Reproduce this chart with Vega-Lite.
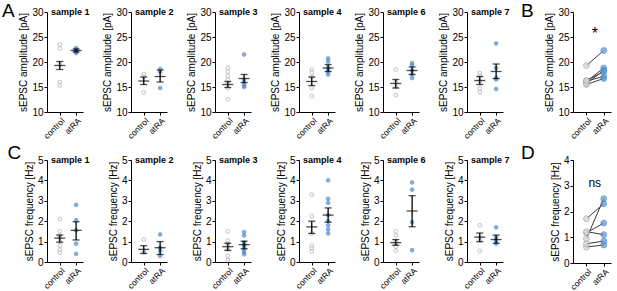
{
"$schema": "https://vega.github.io/schema/vega-lite/v6.json",
"padding": {"left": 1, "top": 2, "right": 2, "bottom": 1},
"background": "white",
"datasets": {"all": [
{"m":"amp","sample":"sample 1","group":"control","value":23.5},
{"m":"amp","sample":"sample 1","group":"control","value":22.7},
{"m":"amp","sample":"sample 1","group":"control","value":19.5},
{"m":"amp","sample":"sample 1","group":"control","value":16.0},
{"m":"amp","sample":"sample 1","group":"control","value":15.3},
{"m":"amp","sample":"sample 1","group":"atRA","value":22.8},
{"m":"amp","sample":"sample 1","group":"atRA","value":22.5},
{"m":"amp","sample":"sample 1","group":"atRA","value":22.3},
{"m":"amp","sample":"sample 1","group":"atRA","value":22.1},
{"m":"amp","sample":"sample 1","group":"atRA","value":22.0},
{"m":"amp","sample":"sample 1","group":"atRA","value":21.8},
{"m":"amp","sample":"sample 2","group":"control","value":17.6},
{"m":"amp","sample":"sample 2","group":"control","value":17.0},
{"m":"amp","sample":"sample 2","group":"control","value":13.9},
{"m":"amp","sample":"sample 2","group":"atRA","value":18.6},
{"m":"amp","sample":"sample 2","group":"atRA","value":18.0},
{"m":"amp","sample":"sample 2","group":"atRA","value":14.8},
{"m":"amp","sample":"sample 3","group":"control","value":18.8},
{"m":"amp","sample":"sample 3","group":"control","value":18.1},
{"m":"amp","sample":"sample 3","group":"control","value":17.2},
{"m":"amp","sample":"sample 3","group":"control","value":16.5},
{"m":"amp","sample":"sample 3","group":"control","value":15.7},
{"m":"amp","sample":"sample 3","group":"control","value":14.8},
{"m":"amp","sample":"sample 3","group":"control","value":12.5},
{"m":"amp","sample":"sample 3","group":"atRA","value":21.5},
{"m":"amp","sample":"sample 3","group":"atRA","value":16.5},
{"m":"amp","sample":"sample 3","group":"atRA","value":15.8},
{"m":"amp","sample":"sample 3","group":"atRA","value":15.3},
{"m":"amp","sample":"sample 3","group":"atRA","value":15.0},
{"m":"amp","sample":"sample 4","group":"control","value":18.5},
{"m":"amp","sample":"sample 4","group":"control","value":17.9},
{"m":"amp","sample":"sample 4","group":"control","value":17.0},
{"m":"amp","sample":"sample 4","group":"control","value":14.8},
{"m":"amp","sample":"sample 4","group":"control","value":13.2},
{"m":"amp","sample":"sample 4","group":"atRA","value":20.7},
{"m":"amp","sample":"sample 4","group":"atRA","value":20.1},
{"m":"amp","sample":"sample 4","group":"atRA","value":19.0},
{"m":"amp","sample":"sample 4","group":"atRA","value":18.5},
{"m":"amp","sample":"sample 4","group":"atRA","value":18.0},
{"m":"amp","sample":"sample 4","group":"atRA","value":17.5},
{"m":"amp","sample":"sample 6","group":"control","value":18.5},
{"m":"amp","sample":"sample 6","group":"control","value":16.0},
{"m":"amp","sample":"sample 6","group":"control","value":15.0},
{"m":"amp","sample":"sample 6","group":"control","value":13.4},
{"m":"amp","sample":"sample 6","group":"atRA","value":19.8},
{"m":"amp","sample":"sample 6","group":"atRA","value":19.3},
{"m":"amp","sample":"sample 6","group":"atRA","value":18.3},
{"m":"amp","sample":"sample 6","group":"atRA","value":17.5},
{"m":"amp","sample":"sample 6","group":"atRA","value":16.8},
{"m":"amp","sample":"sample 7","group":"control","value":17.8},
{"m":"amp","sample":"sample 7","group":"control","value":17.2},
{"m":"amp","sample":"sample 7","group":"control","value":16.2},
{"m":"amp","sample":"sample 7","group":"control","value":14.7},
{"m":"amp","sample":"sample 7","group":"control","value":14.0},
{"m":"amp","sample":"sample 7","group":"atRA","value":23.7},
{"m":"amp","sample":"sample 7","group":"atRA","value":18.8},
{"m":"amp","sample":"sample 7","group":"atRA","value":16.8},
{"m":"amp","sample":"sample 7","group":"atRA","value":16.5},
{"m":"amp","sample":"sample 7","group":"atRA","value":14.6},
{"m":"freq","sample":"sample 1","group":"control","value":2.1},
{"m":"freq","sample":"sample 1","group":"control","value":1.5},
{"m":"freq","sample":"sample 1","group":"control","value":1.3},
{"m":"freq","sample":"sample 1","group":"control","value":1.2},
{"m":"freq","sample":"sample 1","group":"control","value":1.0},
{"m":"freq","sample":"sample 1","group":"control","value":0.8},
{"m":"freq","sample":"sample 1","group":"control","value":0.6},
{"m":"freq","sample":"sample 1","group":"control","value":0.45},
{"m":"freq","sample":"sample 1","group":"atRA","value":2.8},
{"m":"freq","sample":"sample 1","group":"atRA","value":2.05},
{"m":"freq","sample":"sample 1","group":"atRA","value":1.55},
{"m":"freq","sample":"sample 1","group":"atRA","value":0.9},
{"m":"freq","sample":"sample 1","group":"atRA","value":0.4},
{"m":"freq","sample":"sample 2","group":"control","value":1.1},
{"m":"freq","sample":"sample 2","group":"control","value":0.55},
{"m":"freq","sample":"sample 2","group":"control","value":0.45},
{"m":"freq","sample":"sample 2","group":"atRA","value":1.35},
{"m":"freq","sample":"sample 2","group":"atRA","value":0.7},
{"m":"freq","sample":"sample 2","group":"atRA","value":0.55},
{"m":"freq","sample":"sample 2","group":"atRA","value":0.3},
{"m":"freq","sample":"sample 3","group":"control","value":1.5},
{"m":"freq","sample":"sample 3","group":"control","value":1.05},
{"m":"freq","sample":"sample 3","group":"control","value":0.9},
{"m":"freq","sample":"sample 3","group":"control","value":0.8},
{"m":"freq","sample":"sample 3","group":"control","value":0.6},
{"m":"freq","sample":"sample 3","group":"control","value":0.3},
{"m":"freq","sample":"sample 3","group":"control","value":0.1},
{"m":"freq","sample":"sample 3","group":"atRA","value":1.47},
{"m":"freq","sample":"sample 3","group":"atRA","value":1.3},
{"m":"freq","sample":"sample 3","group":"atRA","value":0.95},
{"m":"freq","sample":"sample 3","group":"atRA","value":0.85},
{"m":"freq","sample":"sample 3","group":"atRA","value":0.75},
{"m":"freq","sample":"sample 3","group":"atRA","value":0.62},
{"m":"freq","sample":"sample 3","group":"atRA","value":0.5},
{"m":"freq","sample":"sample 3","group":"atRA","value":0.38},
{"m":"freq","sample":"sample 4","group":"control","value":3.3},
{"m":"freq","sample":"sample 4","group":"control","value":2.25},
{"m":"freq","sample":"sample 4","group":"control","value":1.4},
{"m":"freq","sample":"sample 4","group":"control","value":0.8},
{"m":"freq","sample":"sample 4","group":"control","value":0.68},
{"m":"freq","sample":"sample 4","group":"control","value":0.52},
{"m":"freq","sample":"sample 4","group":"atRA","value":4.0},
{"m":"freq","sample":"sample 4","group":"atRA","value":3.1},
{"m":"freq","sample":"sample 4","group":"atRA","value":2.9},
{"m":"freq","sample":"sample 4","group":"atRA","value":2.3},
{"m":"freq","sample":"sample 4","group":"atRA","value":2.0},
{"m":"freq","sample":"sample 4","group":"atRA","value":1.8},
{"m":"freq","sample":"sample 4","group":"atRA","value":1.6},
{"m":"freq","sample":"sample 4","group":"atRA","value":1.4},
{"m":"freq","sample":"sample 6","group":"control","value":1.5},
{"m":"freq","sample":"sample 6","group":"control","value":1.3},
{"m":"freq","sample":"sample 6","group":"control","value":1.0},
{"m":"freq","sample":"sample 6","group":"control","value":0.9},
{"m":"freq","sample":"sample 6","group":"control","value":0.75},
{"m":"freq","sample":"sample 6","group":"control","value":0.55},
{"m":"freq","sample":"sample 6","group":"atRA","value":3.9},
{"m":"freq","sample":"sample 6","group":"atRA","value":3.55},
{"m":"freq","sample":"sample 6","group":"atRA","value":1.95},
{"m":"freq","sample":"sample 6","group":"atRA","value":0.58},
{"m":"freq","sample":"sample 7","group":"control","value":1.8},
{"m":"freq","sample":"sample 7","group":"control","value":1.2},
{"m":"freq","sample":"sample 7","group":"control","value":1.05},
{"m":"freq","sample":"sample 7","group":"control","value":0.55},
{"m":"freq","sample":"sample 7","group":"atRA","value":1.7},
{"m":"freq","sample":"sample 7","group":"atRA","value":1.2},
{"m":"freq","sample":"sample 7","group":"atRA","value":1.05},
{"m":"freq","sample":"sample 7","group":"atRA","value":0.9},
{"m":"amp","sample":"sample 1","group":"control","mean":19.3,"lo":18.5,"hi":20.1},
{"m":"amp","sample":"sample 1","group":"atRA","mean":22.3,"lo":22.0,"hi":22.6},
{"m":"amp","sample":"sample 2","group":"control","mean":16.2,"lo":15.5,"hi":17.0},
{"m":"amp","sample":"sample 2","group":"atRA","mean":17.1,"lo":16.0,"hi":18.4},
{"m":"amp","sample":"sample 3","group":"control","mean":15.5,"lo":14.9,"hi":16.1},
{"m":"amp","sample":"sample 3","group":"atRA","mean":16.7,"lo":15.9,"hi":17.5},
{"m":"amp","sample":"sample 4","group":"control","mean":16.1,"lo":15.3,"hi":17.0},
{"m":"amp","sample":"sample 4","group":"atRA","mean":18.8,"lo":18.1,"hi":19.5},
{"m":"amp","sample":"sample 6","group":"control","mean":15.7,"lo":14.8,"hi":16.5},
{"m":"amp","sample":"sample 6","group":"atRA","mean":18.3,"lo":17.5,"hi":19.0},
{"m":"amp","sample":"sample 7","group":"control","mean":16.3,"lo":15.5,"hi":17.1},
{"m":"amp","sample":"sample 7","group":"atRA","mean":18.1,"lo":16.7,"hi":19.6},
{"m":"freq","sample":"sample 1","group":"control","mean":1.17,"lo":0.97,"hi":1.32},
{"m":"freq","sample":"sample 1","group":"atRA","mean":1.55,"lo":1.08,"hi":1.97},
{"m":"freq","sample":"sample 2","group":"control","mean":0.62,"lo":0.42,"hi":0.8},
{"m":"freq","sample":"sample 2","group":"atRA","mean":0.7,"lo":0.37,"hi":1.0},
{"m":"freq","sample":"sample 3","group":"control","mean":0.75,"lo":0.57,"hi":0.92},
{"m":"freq","sample":"sample 3","group":"atRA","mean":0.85,"lo":0.65,"hi":1.02},
{"m":"freq","sample":"sample 4","group":"control","mean":1.72,"lo":1.4,"hi":2.0},
{"m":"freq","sample":"sample 4","group":"atRA","mean":2.3,"lo":1.95,"hi":2.65},
{"m":"freq","sample":"sample 6","group":"control","mean":0.95,"lo":0.82,"hi":1.1},
{"m":"freq","sample":"sample 6","group":"atRA","mean":2.5,"lo":1.73,"hi":3.25},
{"m":"freq","sample":"sample 7","group":"control","mean":1.22,"lo":1.0,"hi":1.42},
{"m":"freq","sample":"sample 7","group":"atRA","mean":1.1,"lo":0.92,"hi":1.32}
]},
"vconcat": [
{"hconcat": [
 {"title": {"text": "A", "fontSize": 19, "fontWeight": "normal", "frame": "bounds", "anchor": "start", "offset": -14, "dx": -17},
  "spacing": 48, "bounds": "flush",
  "hconcat": [
  {"width":36,"height":100,"title":{"text":"sample 1"},"data":{"name":"all"},"transform":[{"filter":"datum.m=='amp' && datum.sample=='sample 1'"}],
   "encoding":{"x":{"field":"group","type":"nominal","scale":{"type":"point","domain":["control","atRA"],"padding":0.6,"align":0.65},"axis":{"title":null}}},
   "layer":[
    {"transform":[{"filter":"isValid(datum.value)"}],"mark":{"type":"circle","size":14,"strokeWidth":1},"encoding":{"y":{"field":"value","type":"quantitative","scale":{"domain":[10,30]},"axis":{"values":[10,15,20,25,30],"title":"sEPSC amplitude [pA]"}},"fill":{"condition":{"test":"datum.group=='control'","value":"white"},"value":"#4a89c8"},"stroke":{"condition":{"test":"datum.group=='control'","value":"#a8a8a8"},"value":"#4a89c8"}}},
    {"transform":[{"filter":"isValid(datum.mean)"}],"mark":{"type":"errorbar","ticks":{"size":7},"thickness":1.3,"color":"black"},"encoding":{"y":{"field":"lo","type":"quantitative","scale":{"domain":[10,30]},"axis":{"values":[10,15,20,25,30],"title":"sEPSC amplitude [pA]"}},"y2":{"field":"hi"}}},
    {"transform":[{"filter":"isValid(datum.mean)"}],"mark":{"type":"tick","size":11,"thickness":1.3,"color":"black"},"encoding":{"y":{"field":"mean","type":"quantitative","scale":{"domain":[10,30]},"axis":{"values":[10,15,20,25,30],"title":"sEPSC amplitude [pA]"}}}}
   ]},
  {"width":36,"height":100,"title":{"text":"sample 2"},"data":{"name":"all"},"transform":[{"filter":"datum.m=='amp' && datum.sample=='sample 2'"}],
   "encoding":{"x":{"field":"group","type":"nominal","scale":{"type":"point","domain":["control","atRA"],"padding":0.6,"align":0.65},"axis":{"title":null}}},
   "layer":[
    {"transform":[{"filter":"isValid(datum.value)"}],"mark":{"type":"circle","size":14,"strokeWidth":1},"encoding":{"y":{"field":"value","type":"quantitative","scale":{"domain":[10,30]},"axis":{"values":[10,15,20,25,30],"title":"sEPSC amplitude [pA]"}},"fill":{"condition":{"test":"datum.group=='control'","value":"white"},"value":"#4a89c8"},"stroke":{"condition":{"test":"datum.group=='control'","value":"#a8a8a8"},"value":"#4a89c8"}}},
    {"transform":[{"filter":"isValid(datum.mean)"}],"mark":{"type":"errorbar","ticks":{"size":7},"thickness":1.3,"color":"black"},"encoding":{"y":{"field":"lo","type":"quantitative","scale":{"domain":[10,30]},"axis":{"values":[10,15,20,25,30],"title":"sEPSC amplitude [pA]"}},"y2":{"field":"hi"}}},
    {"transform":[{"filter":"isValid(datum.mean)"}],"mark":{"type":"tick","size":11,"thickness":1.3,"color":"black"},"encoding":{"y":{"field":"mean","type":"quantitative","scale":{"domain":[10,30]},"axis":{"values":[10,15,20,25,30],"title":"sEPSC amplitude [pA]"}}}}
   ]},
  {"width":36,"height":100,"title":{"text":"sample 3"},"data":{"name":"all"},"transform":[{"filter":"datum.m=='amp' && datum.sample=='sample 3'"}],
   "encoding":{"x":{"field":"group","type":"nominal","scale":{"type":"point","domain":["control","atRA"],"padding":0.6,"align":0.65},"axis":{"title":null}}},
   "layer":[
    {"transform":[{"filter":"isValid(datum.value)"}],"mark":{"type":"circle","size":14,"strokeWidth":1},"encoding":{"y":{"field":"value","type":"quantitative","scale":{"domain":[10,30]},"axis":{"values":[10,15,20,25,30],"title":"sEPSC amplitude [pA]"}},"fill":{"condition":{"test":"datum.group=='control'","value":"white"},"value":"#4a89c8"},"stroke":{"condition":{"test":"datum.group=='control'","value":"#a8a8a8"},"value":"#4a89c8"}}},
    {"transform":[{"filter":"isValid(datum.mean)"}],"mark":{"type":"errorbar","ticks":{"size":7},"thickness":1.3,"color":"black"},"encoding":{"y":{"field":"lo","type":"quantitative","scale":{"domain":[10,30]},"axis":{"values":[10,15,20,25,30],"title":"sEPSC amplitude [pA]"}},"y2":{"field":"hi"}}},
    {"transform":[{"filter":"isValid(datum.mean)"}],"mark":{"type":"tick","size":11,"thickness":1.3,"color":"black"},"encoding":{"y":{"field":"mean","type":"quantitative","scale":{"domain":[10,30]},"axis":{"values":[10,15,20,25,30],"title":"sEPSC amplitude [pA]"}}}}
   ]},
  {"width":36,"height":100,"title":{"text":"sample 4"},"data":{"name":"all"},"transform":[{"filter":"datum.m=='amp' && datum.sample=='sample 4'"}],
   "encoding":{"x":{"field":"group","type":"nominal","scale":{"type":"point","domain":["control","atRA"],"padding":0.6,"align":0.65},"axis":{"title":null}}},
   "layer":[
    {"transform":[{"filter":"isValid(datum.value)"}],"mark":{"type":"circle","size":14,"strokeWidth":1},"encoding":{"y":{"field":"value","type":"quantitative","scale":{"domain":[10,30]},"axis":{"values":[10,15,20,25,30],"title":"sEPSC amplitude [pA]"}},"fill":{"condition":{"test":"datum.group=='control'","value":"white"},"value":"#4a89c8"},"stroke":{"condition":{"test":"datum.group=='control'","value":"#a8a8a8"},"value":"#4a89c8"}}},
    {"transform":[{"filter":"isValid(datum.mean)"}],"mark":{"type":"errorbar","ticks":{"size":7},"thickness":1.3,"color":"black"},"encoding":{"y":{"field":"lo","type":"quantitative","scale":{"domain":[10,30]},"axis":{"values":[10,15,20,25,30],"title":"sEPSC amplitude [pA]"}},"y2":{"field":"hi"}}},
    {"transform":[{"filter":"isValid(datum.mean)"}],"mark":{"type":"tick","size":11,"thickness":1.3,"color":"black"},"encoding":{"y":{"field":"mean","type":"quantitative","scale":{"domain":[10,30]},"axis":{"values":[10,15,20,25,30],"title":"sEPSC amplitude [pA]"}}}}
   ]},
  {"width":36,"height":100,"title":{"text":"sample 6"},"data":{"name":"all"},"transform":[{"filter":"datum.m=='amp' && datum.sample=='sample 6'"}],
   "encoding":{"x":{"field":"group","type":"nominal","scale":{"type":"point","domain":["control","atRA"],"padding":0.6,"align":0.65},"axis":{"title":null}}},
   "layer":[
    {"transform":[{"filter":"isValid(datum.value)"}],"mark":{"type":"circle","size":14,"strokeWidth":1},"encoding":{"y":{"field":"value","type":"quantitative","scale":{"domain":[10,30]},"axis":{"values":[10,15,20,25,30],"title":"sEPSC amplitude [pA]"}},"fill":{"condition":{"test":"datum.group=='control'","value":"white"},"value":"#4a89c8"},"stroke":{"condition":{"test":"datum.group=='control'","value":"#a8a8a8"},"value":"#4a89c8"}}},
    {"transform":[{"filter":"isValid(datum.mean)"}],"mark":{"type":"errorbar","ticks":{"size":7},"thickness":1.3,"color":"black"},"encoding":{"y":{"field":"lo","type":"quantitative","scale":{"domain":[10,30]},"axis":{"values":[10,15,20,25,30],"title":"sEPSC amplitude [pA]"}},"y2":{"field":"hi"}}},
    {"transform":[{"filter":"isValid(datum.mean)"}],"mark":{"type":"tick","size":11,"thickness":1.3,"color":"black"},"encoding":{"y":{"field":"mean","type":"quantitative","scale":{"domain":[10,30]},"axis":{"values":[10,15,20,25,30],"title":"sEPSC amplitude [pA]"}}}}
   ]},
  {"width":36,"height":100,"title":{"text":"sample 7"},"data":{"name":"all"},"transform":[{"filter":"datum.m=='amp' && datum.sample=='sample 7'"}],
   "encoding":{"x":{"field":"group","type":"nominal","scale":{"type":"point","domain":["control","atRA"],"padding":0.6,"align":0.65},"axis":{"title":null}}},
   "layer":[
    {"transform":[{"filter":"isValid(datum.value)"}],"mark":{"type":"circle","size":14,"strokeWidth":1},"encoding":{"y":{"field":"value","type":"quantitative","scale":{"domain":[10,30]},"axis":{"values":[10,15,20,25,30],"title":"sEPSC amplitude [pA]"}},"fill":{"condition":{"test":"datum.group=='control'","value":"white"},"value":"#4a89c8"},"stroke":{"condition":{"test":"datum.group=='control'","value":"#a8a8a8"},"value":"#4a89c8"}}},
    {"transform":[{"filter":"isValid(datum.mean)"}],"mark":{"type":"errorbar","ticks":{"size":7},"thickness":1.3,"color":"black"},"encoding":{"y":{"field":"lo","type":"quantitative","scale":{"domain":[10,30]},"axis":{"values":[10,15,20,25,30],"title":"sEPSC amplitude [pA]"}},"y2":{"field":"hi"}}},
    {"transform":[{"filter":"isValid(datum.mean)"}],"mark":{"type":"tick","size":11,"thickness":1.3,"color":"black"},"encoding":{"y":{"field":"mean","type":"quantitative","scale":{"domain":[10,30]},"axis":{"values":[10,15,20,25,30],"title":"sEPSC amplitude [pA]"}}}}
   ]}
 ]},
 {"width":38,"height":100,"title":{"text":"B","fontSize":19,"fontWeight":"normal","frame":"group","anchor":"start","offset":-14,"dx":-52},
  "data":{"name":"all"},
  "encoding":{"x":{"field":"group","type":"nominal","scale":{"type":"point","domain":["control","atRA"],"padding":0.6,"align":0.65},"axis":{"title":null}}},
  "layer":[
   {"transform":[{"filter":"datum.m=='amp' && isValid(datum.mean)"}],"mark":{"type":"line","color":"#3a3a3a","strokeWidth":1},"encoding":{"y":{"field":"mean","type":"quantitative","scale":{"domain":[10,30]},"axis":{"values":[10,15,20,25,30],"title":"sEPSC amplitude [pA]"}},"detail":{"field":"sample"}}},
   {"transform":[{"filter":"datum.m=='amp' && isValid(datum.mean)"}],"mark":{"type":"circle","size":34,"strokeWidth":1},"encoding":{"y":{"field":"mean","type":"quantitative","scale":{"domain":[10,30]},"axis":{"values":[10,15,20,25,30],"title":"sEPSC amplitude [pA]"}},"fill":{"condition":{"test":"datum.group=='control'","value":"#d9d9d9"},"value":"#5b9bd5"},"stroke":{"condition":{"test":"datum.group=='control'","value":"#a0a0a0"},"value":"#3f7fc0"}}},
   {"data":{"values":[{"t":"*"}]},"mark":{"type":"text","fontSize":16,"dx":-9,"color":"black"},"encoding":{"x":{"datum":"atRA"},"y":{"datum":25.6,"axis":{"values":[10,15,20,25,30],"title":"sEPSC amplitude [pA]"}},"text":{"field":"t"}}}
  ]}
], "spacing": 11},
{"hconcat": [
 {"title": {"text": "C", "fontSize": 19, "fontWeight": "normal", "frame": "bounds", "anchor": "start", "offset": -8, "dx": -17},
  "spacing": 48, "bounds": "flush",
  "hconcat": [
  {"width":36,"height":102,"title":{"text":"sample 1"},"data":{"name":"all"},"transform":[{"filter":"datum.m=='freq' && datum.sample=='sample 1'"}],
   "encoding":{"x":{"field":"group","type":"nominal","scale":{"type":"point","domain":["control","atRA"],"padding":0.6,"align":0.65},"axis":{"title":null}}},
   "layer":[
    {"transform":[{"filter":"isValid(datum.value)"}],"mark":{"type":"circle","size":14,"strokeWidth":1},"encoding":{"y":{"field":"value","type":"quantitative","scale":{"domain":[0,5]},"axis":{"values":[0,1,2,3,4,5],"title":"sEPSC frequency [Hz]"}},"fill":{"condition":{"test":"datum.group=='control'","value":"white"},"value":"#4a89c8"},"stroke":{"condition":{"test":"datum.group=='control'","value":"#a8a8a8"},"value":"#4a89c8"}}},
    {"transform":[{"filter":"isValid(datum.mean)"}],"mark":{"type":"errorbar","ticks":{"size":7},"thickness":1.3,"color":"black"},"encoding":{"y":{"field":"lo","type":"quantitative","scale":{"domain":[0,5]},"axis":{"values":[0,1,2,3,4,5],"title":"sEPSC frequency [Hz]"}},"y2":{"field":"hi"}}},
    {"transform":[{"filter":"isValid(datum.mean)"}],"mark":{"type":"tick","size":11,"thickness":1.3,"color":"black"},"encoding":{"y":{"field":"mean","type":"quantitative","scale":{"domain":[0,5]},"axis":{"values":[0,1,2,3,4,5],"title":"sEPSC frequency [Hz]"}}}}
   ]},
  {"width":36,"height":102,"title":{"text":"sample 2"},"data":{"name":"all"},"transform":[{"filter":"datum.m=='freq' && datum.sample=='sample 2'"}],
   "encoding":{"x":{"field":"group","type":"nominal","scale":{"type":"point","domain":["control","atRA"],"padding":0.6,"align":0.65},"axis":{"title":null}}},
   "layer":[
    {"transform":[{"filter":"isValid(datum.value)"}],"mark":{"type":"circle","size":14,"strokeWidth":1},"encoding":{"y":{"field":"value","type":"quantitative","scale":{"domain":[0,5]},"axis":{"values":[0,1,2,3,4,5],"title":"sEPSC frequency [Hz]"}},"fill":{"condition":{"test":"datum.group=='control'","value":"white"},"value":"#4a89c8"},"stroke":{"condition":{"test":"datum.group=='control'","value":"#a8a8a8"},"value":"#4a89c8"}}},
    {"transform":[{"filter":"isValid(datum.mean)"}],"mark":{"type":"errorbar","ticks":{"size":7},"thickness":1.3,"color":"black"},"encoding":{"y":{"field":"lo","type":"quantitative","scale":{"domain":[0,5]},"axis":{"values":[0,1,2,3,4,5],"title":"sEPSC frequency [Hz]"}},"y2":{"field":"hi"}}},
    {"transform":[{"filter":"isValid(datum.mean)"}],"mark":{"type":"tick","size":11,"thickness":1.3,"color":"black"},"encoding":{"y":{"field":"mean","type":"quantitative","scale":{"domain":[0,5]},"axis":{"values":[0,1,2,3,4,5],"title":"sEPSC frequency [Hz]"}}}}
   ]},
  {"width":36,"height":102,"title":{"text":"sample 3"},"data":{"name":"all"},"transform":[{"filter":"datum.m=='freq' && datum.sample=='sample 3'"}],
   "encoding":{"x":{"field":"group","type":"nominal","scale":{"type":"point","domain":["control","atRA"],"padding":0.6,"align":0.65},"axis":{"title":null}}},
   "layer":[
    {"transform":[{"filter":"isValid(datum.value)"}],"mark":{"type":"circle","size":14,"strokeWidth":1},"encoding":{"y":{"field":"value","type":"quantitative","scale":{"domain":[0,5]},"axis":{"values":[0,1,2,3,4,5],"title":"sEPSC frequency [Hz]"}},"fill":{"condition":{"test":"datum.group=='control'","value":"white"},"value":"#4a89c8"},"stroke":{"condition":{"test":"datum.group=='control'","value":"#a8a8a8"},"value":"#4a89c8"}}},
    {"transform":[{"filter":"isValid(datum.mean)"}],"mark":{"type":"errorbar","ticks":{"size":7},"thickness":1.3,"color":"black"},"encoding":{"y":{"field":"lo","type":"quantitative","scale":{"domain":[0,5]},"axis":{"values":[0,1,2,3,4,5],"title":"sEPSC frequency [Hz]"}},"y2":{"field":"hi"}}},
    {"transform":[{"filter":"isValid(datum.mean)"}],"mark":{"type":"tick","size":11,"thickness":1.3,"color":"black"},"encoding":{"y":{"field":"mean","type":"quantitative","scale":{"domain":[0,5]},"axis":{"values":[0,1,2,3,4,5],"title":"sEPSC frequency [Hz]"}}}}
   ]},
  {"width":36,"height":102,"title":{"text":"sample 4"},"data":{"name":"all"},"transform":[{"filter":"datum.m=='freq' && datum.sample=='sample 4'"}],
   "encoding":{"x":{"field":"group","type":"nominal","scale":{"type":"point","domain":["control","atRA"],"padding":0.6,"align":0.65},"axis":{"title":null}}},
   "layer":[
    {"transform":[{"filter":"isValid(datum.value)"}],"mark":{"type":"circle","size":14,"strokeWidth":1},"encoding":{"y":{"field":"value","type":"quantitative","scale":{"domain":[0,5]},"axis":{"values":[0,1,2,3,4,5],"title":"sEPSC frequency [Hz]"}},"fill":{"condition":{"test":"datum.group=='control'","value":"white"},"value":"#4a89c8"},"stroke":{"condition":{"test":"datum.group=='control'","value":"#a8a8a8"},"value":"#4a89c8"}}},
    {"transform":[{"filter":"isValid(datum.mean)"}],"mark":{"type":"errorbar","ticks":{"size":7},"thickness":1.3,"color":"black"},"encoding":{"y":{"field":"lo","type":"quantitative","scale":{"domain":[0,5]},"axis":{"values":[0,1,2,3,4,5],"title":"sEPSC frequency [Hz]"}},"y2":{"field":"hi"}}},
    {"transform":[{"filter":"isValid(datum.mean)"}],"mark":{"type":"tick","size":11,"thickness":1.3,"color":"black"},"encoding":{"y":{"field":"mean","type":"quantitative","scale":{"domain":[0,5]},"axis":{"values":[0,1,2,3,4,5],"title":"sEPSC frequency [Hz]"}}}}
   ]},
  {"width":36,"height":102,"title":{"text":"sample 6"},"data":{"name":"all"},"transform":[{"filter":"datum.m=='freq' && datum.sample=='sample 6'"}],
   "encoding":{"x":{"field":"group","type":"nominal","scale":{"type":"point","domain":["control","atRA"],"padding":0.6,"align":0.65},"axis":{"title":null}}},
   "layer":[
    {"transform":[{"filter":"isValid(datum.value)"}],"mark":{"type":"circle","size":14,"strokeWidth":1},"encoding":{"y":{"field":"value","type":"quantitative","scale":{"domain":[0,5]},"axis":{"values":[0,1,2,3,4,5],"title":"sEPSC frequency [Hz]"}},"fill":{"condition":{"test":"datum.group=='control'","value":"white"},"value":"#4a89c8"},"stroke":{"condition":{"test":"datum.group=='control'","value":"#a8a8a8"},"value":"#4a89c8"}}},
    {"transform":[{"filter":"isValid(datum.mean)"}],"mark":{"type":"errorbar","ticks":{"size":7},"thickness":1.3,"color":"black"},"encoding":{"y":{"field":"lo","type":"quantitative","scale":{"domain":[0,5]},"axis":{"values":[0,1,2,3,4,5],"title":"sEPSC frequency [Hz]"}},"y2":{"field":"hi"}}},
    {"transform":[{"filter":"isValid(datum.mean)"}],"mark":{"type":"tick","size":11,"thickness":1.3,"color":"black"},"encoding":{"y":{"field":"mean","type":"quantitative","scale":{"domain":[0,5]},"axis":{"values":[0,1,2,3,4,5],"title":"sEPSC frequency [Hz]"}}}}
   ]},
  {"width":36,"height":102,"title":{"text":"sample 7"},"data":{"name":"all"},"transform":[{"filter":"datum.m=='freq' && datum.sample=='sample 7'"}],
   "encoding":{"x":{"field":"group","type":"nominal","scale":{"type":"point","domain":["control","atRA"],"padding":0.6,"align":0.65},"axis":{"title":null}}},
   "layer":[
    {"transform":[{"filter":"isValid(datum.value)"}],"mark":{"type":"circle","size":14,"strokeWidth":1},"encoding":{"y":{"field":"value","type":"quantitative","scale":{"domain":[0,5]},"axis":{"values":[0,1,2,3,4,5],"title":"sEPSC frequency [Hz]"}},"fill":{"condition":{"test":"datum.group=='control'","value":"white"},"value":"#4a89c8"},"stroke":{"condition":{"test":"datum.group=='control'","value":"#a8a8a8"},"value":"#4a89c8"}}},
    {"transform":[{"filter":"isValid(datum.mean)"}],"mark":{"type":"errorbar","ticks":{"size":7},"thickness":1.3,"color":"black"},"encoding":{"y":{"field":"lo","type":"quantitative","scale":{"domain":[0,5]},"axis":{"values":[0,1,2,3,4,5],"title":"sEPSC frequency [Hz]"}},"y2":{"field":"hi"}}},
    {"transform":[{"filter":"isValid(datum.mean)"}],"mark":{"type":"tick","size":11,"thickness":1.3,"color":"black"},"encoding":{"y":{"field":"mean","type":"quantitative","scale":{"domain":[0,5]},"axis":{"values":[0,1,2,3,4,5],"title":"sEPSC frequency [Hz]"}}}}
   ]}
 ]},
 {"width":38,"height":103,"title":{"text":"D","fontSize":19,"fontWeight":"normal","frame":"group","anchor":"start","offset":-8,"dx":-52},
  "data":{"name":"all"},
  "encoding":{"x":{"field":"group","type":"nominal","scale":{"type":"point","domain":["control","atRA"],"padding":0.6,"align":0.65},"axis":{"title":null}}},
  "layer":[
   {"transform":[{"filter":"datum.m=='freq' && isValid(datum.mean)"}],"mark":{"type":"line","color":"#3a3a3a","strokeWidth":1},"encoding":{"y":{"field":"mean","type":"quantitative","scale":{"domain":[0,4]},"axis":{"values":[0,1,2,3,4],"title":"sEPSC frequency [Hz]"}},"detail":{"field":"sample"}}},
   {"transform":[{"filter":"datum.m=='freq' && isValid(datum.mean)"}],"mark":{"type":"circle","size":34,"strokeWidth":1},"encoding":{"y":{"field":"mean","type":"quantitative","scale":{"domain":[0,4]},"axis":{"values":[0,1,2,3,4],"title":"sEPSC frequency [Hz]"}},"fill":{"condition":{"test":"datum.group=='control'","value":"#d9d9d9"},"value":"#5b9bd5"},"stroke":{"condition":{"test":"datum.group=='control'","value":"#a0a0a0"},"value":"#3f7fc0"}}},
   {"data":{"values":[{"t":"ns"}]},"mark":{"type":"text","fontSize":12,"dx":-9,"color":"black"},"encoding":{"x":{"datum":"atRA"},"y":{"datum":3.1,"axis":{"values":[0,1,2,3,4],"title":"sEPSC frequency [Hz]"}},"text":{"field":"t"}}}
  ]}
], "spacing": 11}
],
"spacing": 3,
"config": {
 "font": "Liberation Sans",
 "view": {"stroke": null},
 "axis": {"grid": false, "domainColor": "black", "tickColor": "black", "labelColor": "black", "titleColor": "black", "labelFontSize": 10, "titleFontSize": 10, "titleFontWeight": "normal", "tickSize": 3, "labelPadding": 1, "domainWidth": 1, "tickWidth": 1, "labelOverlap": false},
 "axisX": {"labelAngle": -45, "labelFontSize": 8.5, "tickSize": 3, "labelPadding": 1},
 "axisY": {"titlePadding": 3},
 "title": {"fontSize": 9, "fontWeight": "bold", "anchor": "start", "frame": "group", "offset": -10, "dx": 4, "color": "black"}
}
}
